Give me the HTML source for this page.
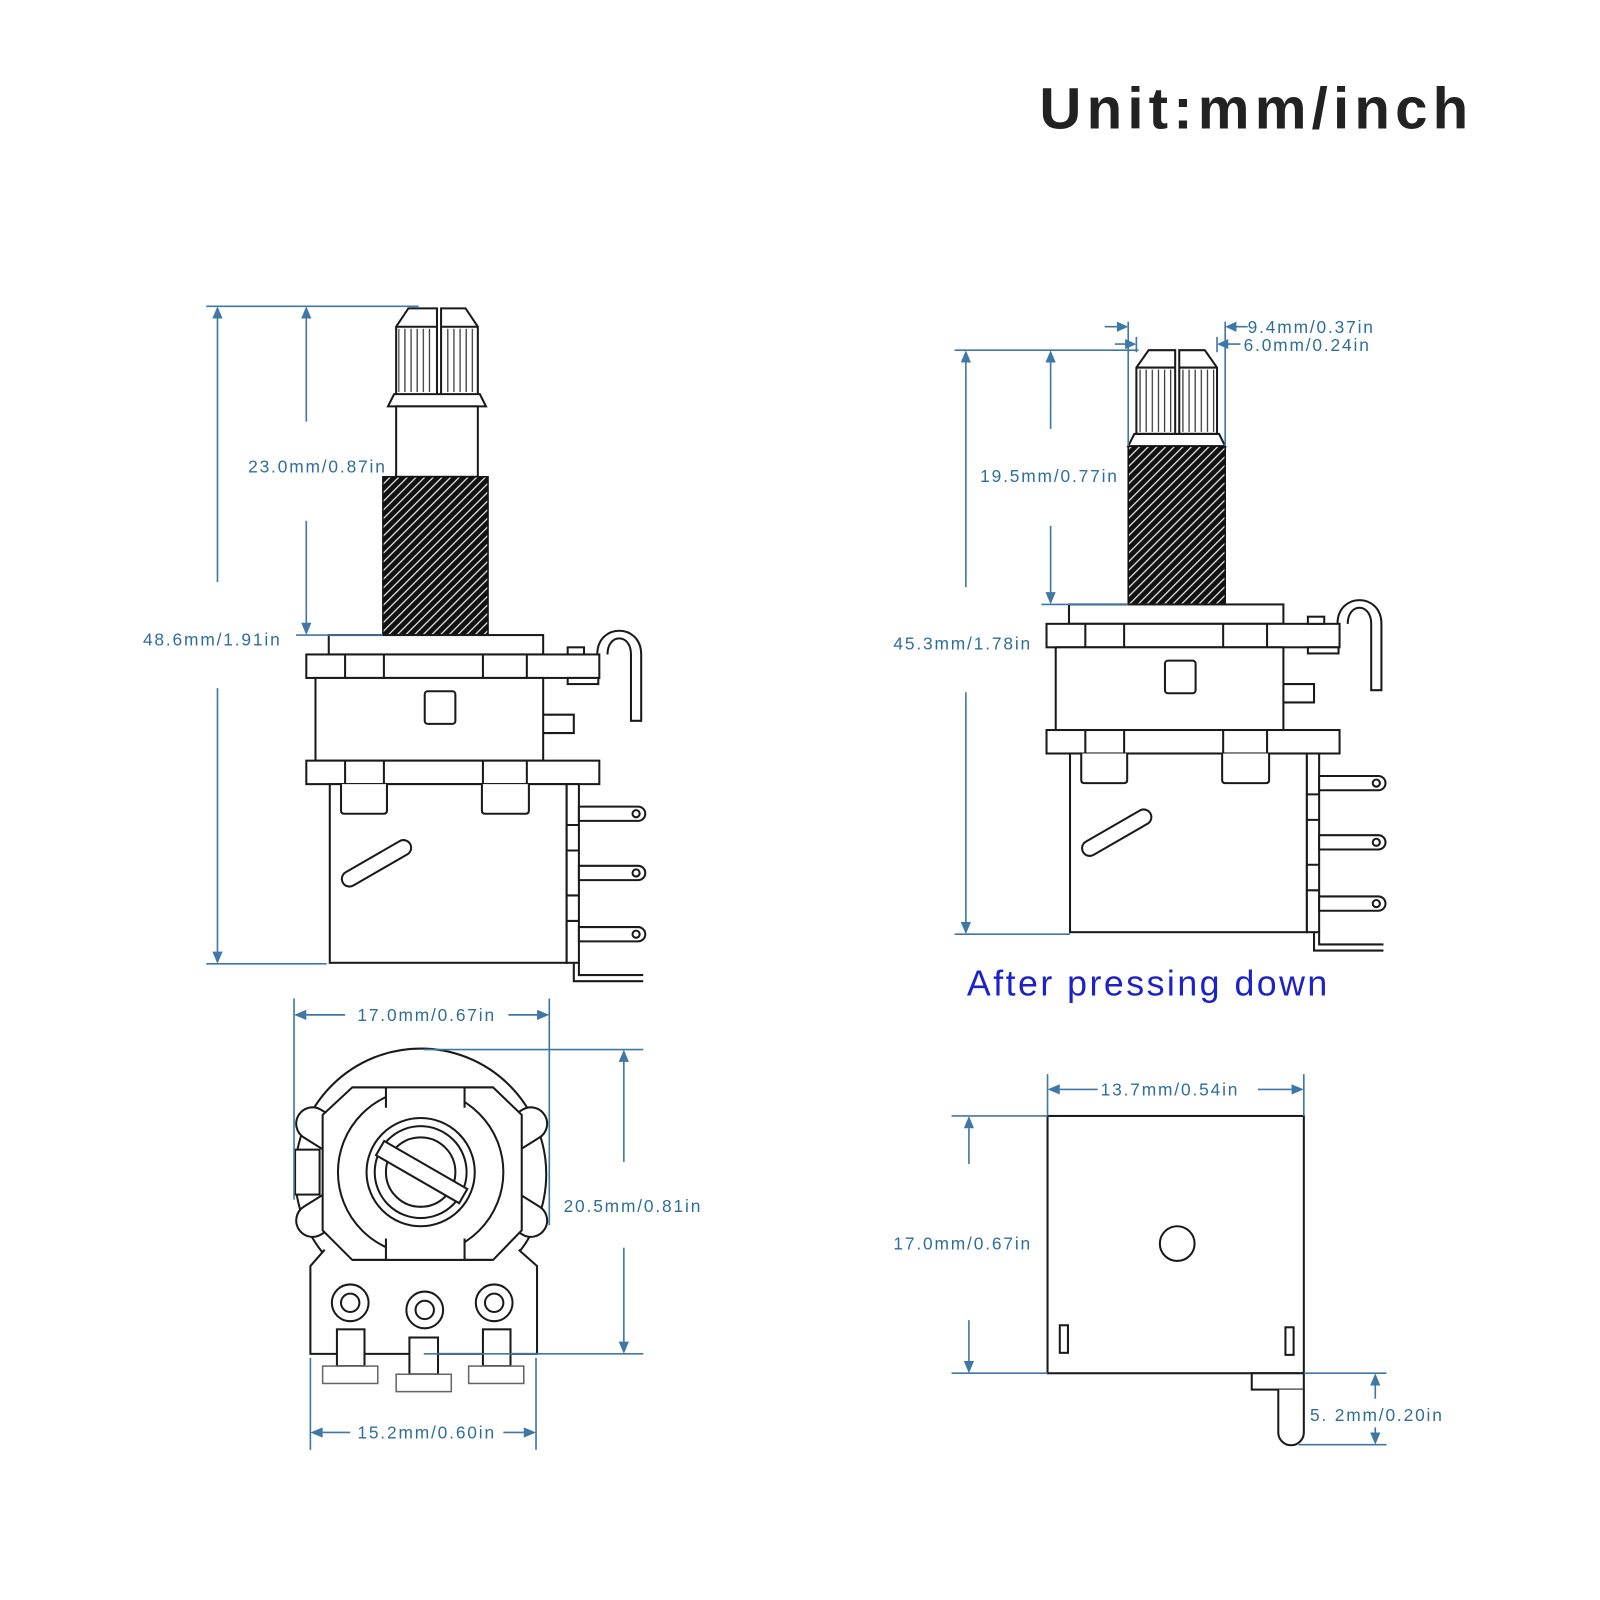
<!DOCTYPE html>
<html><head><meta charset="utf-8"><style>
html,body{margin:0;padding:0;background:#fff;width:1600px;height:1600px;overflow:hidden}
svg{display:block}
.k{fill:#fff;stroke:#1a1a1a;stroke-width:2}
.n{fill:none;stroke:#1a1a1a;stroke-width:2}
.d{stroke:#3f78a6;stroke-width:1.6;fill:none}
.a{fill:#3f78a6}
.t{font-family:"Liberation Sans",sans-serif;font-size:17px;fill:#2f6e9c;letter-spacing:1.8px}
</style></head><body>
<svg width="1600" height="1600" viewBox="0 0 1600 1600" xmlns="http://www.w3.org/2000/svg">
<defs>
<pattern id="h" width="6" height="6" patternUnits="userSpaceOnUse" patternTransform="rotate(-45)">
<rect width="6" height="6" fill="#111"/><rect y="0" width="6" height="1.3" fill="#ddd"/>
</pattern>
<pattern id="kn" width="6" height="10" patternUnits="userSpaceOnUse">
<rect width="6" height="10" fill="#fff"/><rect x="0" width="1.2" height="10" fill="#333"/>
</pattern>
<g id="body">
<rect class="k" x="322" y="622" width="210" height="19"/>
<rect class="k" x="300" y="641" width="287" height="23"/>
<path class="n" d="M338,641V664M376,641V664M473,641V664M516,641V664"/>
<rect class="k" x="309" y="664" width="223" height="81"/>
<rect class="k" x="416" y="677" width="30" height="32" rx="3"/>
<path class="n" d="M532,700H562V718H532"/>
<rect class="k" x="556" y="634" width="16" height="7"/>
<rect class="k" x="556" y="664" width="30" height="6"/>
<path class="n" d="M585,641 C585,610 628,610 628,641 V706 H618 V641 C618,620 595,620 595,641"/>
<rect class="k" x="300" y="745" width="287" height="23"/>
<path class="n" d="M338,745V768M376,745V768M473,745V768M516,745V768"/>
<rect class="k" x="323" y="768" width="232" height="175"/>
<path class="k" d="M334,768V794Q334,797 337,797H376Q379,797 379,794V768"/>
<path class="k" d="M472,768V794Q472,797 475,797H515Q518,797 518,794V768"/>
<rect class="k" x="555" y="768" width="12" height="175"/>
<path class="n" d="M555,808H567M555,833H567M555,877H567M555,902H567"/>
<path class="k" d="M567,790H625A7,7 0 0 1 625,804H567Z"/>
<path class="k" d="M567,848H625A7,7 0 0 1 625,862H567Z"/>
<path class="k" d="M567,908H625A7,7 0 0 1 625,922H567Z"/>
<circle class="n" cx="623" cy="797" r="3.5" stroke-width="1.5"/>
<circle class="n" cx="623" cy="855" r="3.5" stroke-width="1.5"/>
<circle class="n" cx="623" cy="915" r="3.5" stroke-width="1.5"/>
<rect class="k" x="331" y="838" width="76" height="15" rx="7.5" transform="rotate(-30 369 846)"/>
<path class="n" d="M562,943V961H630" stroke-width="2"/>
<path class="n" d="M567,943V955H630" stroke-width="1.5"/>
</g>
</defs>
<g transform="scale(1.021)">
<text x="1018" y="126" font-family="'Liberation Sans',sans-serif" font-weight="bold" font-size="57" fill="#222" textLength="420" lengthAdjust="spacing">Unit:mm/inch</text>

<!-- LEFT DEVICE -->
<path class="k" d="M388,320L400,302H428V388H388Z"/>
<path class="k" d="M468,320L456,302H432V388H468Z"/>
<rect x="390" y="322" width="36" height="62" fill="url(#kn)"/>
<rect x="434" y="322" width="32" height="62" fill="url(#kn)"/>
<path class="n" d="M388,320H428M432,320H468"/>
<path class="k" d="M386,386H470L476,398H380Z"/>
<rect class="k" x="388" y="398" width="80" height="69"/>
<rect x="375" y="467" width="103" height="155" fill="url(#h)" stroke="#111" stroke-width="1.5"/>
<use href="#body"/>

<!-- left dims -->
<path class="d" d="M202,300H410M202,944H320M290,622H375"/>
<path class="d" d="M213,306V570M213,674V938M300,306V413M300,510V616"/>
<path class="a" d="M213,300l-5,12h10zM213,944l-5,-12h10zM300,300l-5,12h10zM300,622l-5,-12h10z"/>
<text class="t" x="140" y="632">48.6mm/1.91in</text>
<text class="t" x="243" y="463">23.0mm/0.87in</text>

<!-- RIGHT DEVICE -->
<path class="k" d="M1113,360L1125,343H1151V425H1113Z"/>
<path class="k" d="M1192,360L1180,343H1155V425H1192Z"/>
<rect x="1115" y="362" width="34" height="61" fill="url(#kn)"/>
<rect x="1157" y="362" width="33" height="61" fill="url(#kn)"/>
<path class="n" d="M1113,360H1151M1155,360H1192"/>
<path class="k" d="M1111,425H1194L1200,437H1105Z"/>
<rect x="1105" y="437" width="95" height="155" fill="url(#h)" stroke="#111" stroke-width="1.5"/>
<use href="#body" transform="translate(725,-30)"/>

<!-- right dims -->
<path class="d" d="M935,343H1115M935,915H1048M1020,592H1105"/>
<path class="d" d="M946,349V575M946,678V909M1029,349V420M1029,515V586"/>
<path class="a" d="M946,343l-5,12h10zM946,915l-5,-12h10zM1029,343l-5,12h10zM1029,592l-5,-12h10z"/>
<path class="d" d="M1105,315V437M1200,315V437M1113,330V345M1192,330V345"/>
<path class="d" d="M1082,320H1099M1206,320H1222M1092,337H1107M1198,337H1215"/>
<path class="a" d="M1105,320l-11,-5v10zM1200,320l11,-5v10zM1113,337l-11,-5v10zM1192,337l11,-5v10z"/>
<text class="t" x="1222" y="326">9.4mm/0.37in</text>
<text class="t" x="1218" y="344">6.0mm/0.24in</text>
<text class="t" x="875" y="636">45.3mm/1.78in</text>
<text class="t" x="960" y="472">19.5mm/0.77in</text>
<text x="947" y="975" font-family="'Liberation Sans',sans-serif" font-size="35" fill="#1c22c8" textLength="353" lengthAdjust="spacing">After pressing down</text>

<!-- LEFT BOTTOM VIEW -->
<circle class="k" cx="412" cy="1150" r="123"/>
<path class="k" d="M318,1224L304,1240V1326H526V1240L508,1224"/>
<g>
<rect class="k" x="478" y="1092" width="60" height="32" rx="16" transform="rotate(-32 508 1108)"/>
<rect class="k" x="478" y="1172" width="60" height="32" rx="16" transform="rotate(32 508 1188)"/>
<rect class="k" x="288" y="1092" width="60" height="32" rx="16" transform="rotate(32 318 1108)"/>
<rect class="k" x="288" y="1172" width="60" height="32" rx="16" transform="rotate(-32 318 1188)"/>
<rect class="k" x="289" y="1126" width="24" height="44"/>
</g>
<path class="k" d="M345,1065H483L511,1092V1205L483,1234H345L316,1205V1092Z"/>
<circle class="k" cx="412" cy="1148" r="81"/>
<rect x="379" y="1064" width="75" height="26" fill="#fff"/>
<rect x="379" y="1206" width="75" height="27" fill="#fff"/>
<path class="n" d="M378,1065V1085M455,1065V1085M378,1213V1234M455,1213V1234M345,1065H483M345,1234H483"/>
<circle class="n" cx="412" cy="1148" r="53"/>
<circle class="n" cx="412" cy="1148" r="45"/>
<circle class="n" cx="412" cy="1148" r="34"/>
<rect class="k" x="366" y="1140" width="94" height="16" transform="rotate(30 413 1148)"/>
<circle class="n" cx="343" cy="1276" r="18"/><circle class="n" cx="343" cy="1276" r="9"/>
<circle class="n" cx="416" cy="1283" r="18"/><circle class="n" cx="416" cy="1283" r="9"/>
<circle class="n" cx="484" cy="1276" r="18"/><circle class="n" cx="484" cy="1276" r="9"/>
<rect class="k" x="330" y="1302" width="27" height="36"/>
<rect class="k" x="401" y="1310" width="28" height="36"/>
<rect class="k" x="473" y="1302" width="27" height="36"/>
<rect fill="#fff" stroke="#666" stroke-width="1.5" x="316" y="1338" width="54" height="17"/>
<rect fill="#fff" stroke="#666" stroke-width="1.5" x="388" y="1346" width="54" height="17"/>
<rect fill="#fff" stroke="#666" stroke-width="1.5" x="459" y="1338" width="54" height="17"/>

<!-- left bottom dims -->
<path class="d" d="M288,978V1175M538,978V1200M415,1028H630M415,1326H630M304,1330V1420M525,1330V1420"/>
<path class="d" d="M300,994H338M498,994H526M611,1040V1138M611,1222V1314M316,1403H343M493,1403H513"/>
<path class="a" d="M288,994l12,-5v10zM538,994l-12,-5v10zM611,1028l-5,12h10zM611,1326l-5,-12h10zM304,1403l12,-5v10zM525,1403l-12,-5v10z"/>
<text class="t" x="350" y="1000">17.0mm/0.67in</text>
<text class="t" x="552" y="1187">20.5mm/0.81in</text>
<text class="t" x="350" y="1409">15.2mm/0.60in</text>

<!-- RIGHT BOTTOM VIEW -->
<rect class="k" x="1026" y="1093" width="251" height="252"/>
<circle class="n" cx="1153" cy="1218" r="17"/>
<rect class="k" x="1038" y="1298" width="8" height="27"/>
<rect class="k" x="1259" y="1300" width="8" height="27"/>
<rect class="k" x="1226" y="1345" width="51" height="16"/>
<path class="k" d="M1252,1361V1403A12.5,12.5 0 0 0 1277,1403V1361"/>
<path class="d" d="M1026,1052V1093M1277,1052V1093M932,1093H1026M932,1345H1026M1277,1345H1358M1272,1415H1358"/>
<path class="d" d="M1038,1067H1075M1232,1067H1265M949,1105V1140M949,1293V1333M1347,1357V1370M1347,1398V1403"/>
<path class="a" d="M1026,1067l12,-5v10zM1277,1067l-12,-5v10zM949,1093l-5,12h10zM949,1345l-5,-12h10zM1347,1345l-5,12h10zM1347,1415l-5,-12h10z"/>
<text class="t" x="1078" y="1073">13.7mm/0.54in</text>
<text class="t" x="875" y="1224">17.0mm/0.67in</text>
<text class="t" x="1283" y="1392">5. 2mm/0.20in</text>
</g>
</svg>
</body></html>
